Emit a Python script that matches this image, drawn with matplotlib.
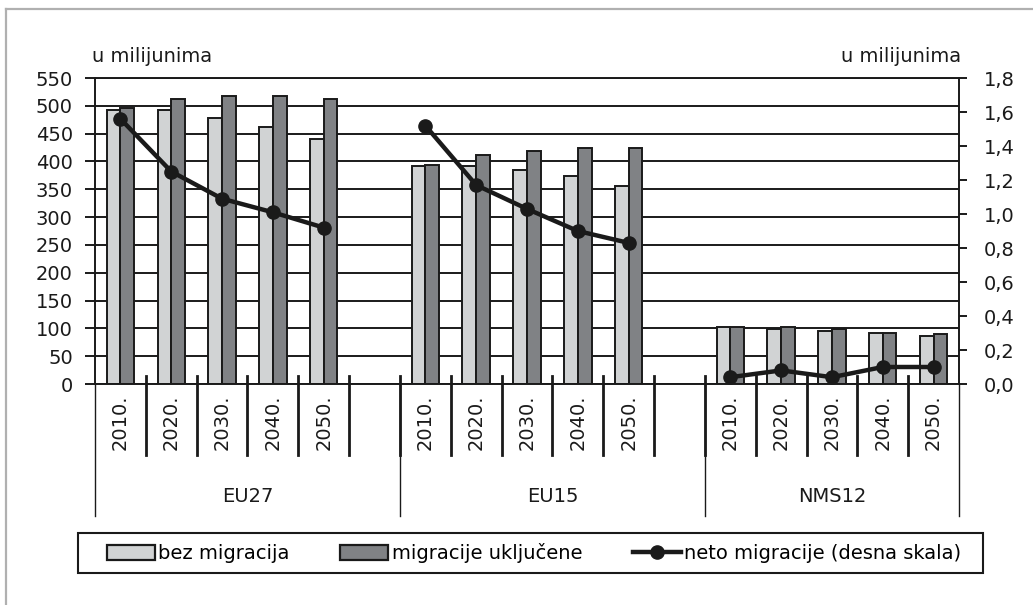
import matplotlib
matplotlib.use("Agg")
import matplotlib.pyplot as plt
from matplotlib.lines import Line2D
from matplotlib.patches import Patch, Rectangle
from matplotlib.ticker import FuncFormatter, MultipleLocator
import matplotlib.transforms as mtransforms
import numpy as np

# ---- data ----
groups = ["EU27", "EU15", "NMS12"]
years = ["2010.", "2020.", "2030.", "2040.", "2050."]
bez_migracija = [492, 492, 479, 462, 440,
                 392, 391, 385, 373, 356,
                 103, 98, 95, 92, 86]
migracije_ukljucene = [496, 512, 518, 518, 512,
                       394, 412, 418, 424, 424,
                       103, 103, 98, 92, 90]
neto_migracije = [1.56, 1.25, 1.09, 1.01, 0.92,
                  1.52, 1.17, 1.03, 0.90, 0.83,
                  0.04, 0.08, 0.04, 0.10, 0.10]
legend_labels = ["bez migracija", "migracije uključene", "neto migracije (desna skala)"]
unit_label = "u milijunima"

# ---- style ----
W, H = 1033, 605
FS = 14
LIGHT = "#d1d3d4"
DARK = "#808285"
plt.rcParams["font.family"] = ["DejaVu Sans"]

fig = plt.figure(figsize=(W / 100, H / 100), dpi=100)
ax = fig.add_axes([95 / W, 1 - 384 / H, (959 - 95) / W, (384 - 78) / H])

n_per = len(years)
step = n_per + 1
positions = np.array([g * step + i for g in range(len(groups)) for i in range(n_per)], dtype=float)
ncat = len(groups) * step - 1

bw = 0.27
ax.bar(positions - bw / 2, bez_migracija, width=bw, color=LIGHT, edgecolor="#1a1a1a",
       linewidth=1.4, zorder=2)
ax.bar(positions + bw / 2, migracije_ukljucene, width=bw, color=DARK, edgecolor="#1a1a1a",
       linewidth=1.4, zorder=2)

ax.set_xlim(-0.5, ncat - 0.5)
ax.set_ylim(0, 550)
ax.yaxis.set_major_locator(MultipleLocator(50))
ax.set_xticks([])
ax.grid(axis="y", color="#1a1a1a", linewidth=1.4)
ax.set_axisbelow(True)
ax.tick_params(axis="y", labelsize=FS, length=7, width=1.4, pad=9, colors="#1a1a1a")
for s in ["left", "bottom", "top"]:
    ax.spines[s].set_color("#1a1a1a")
    ax.spines[s].set_linewidth(1.4)
ax.spines["right"].set_visible(False)

ax2 = ax.twinx()
ax2.set_ylim(0, 1.8)
ax2.yaxis.set_major_locator(MultipleLocator(0.2))
ax2.yaxis.set_major_formatter(FuncFormatter(lambda v, p: f"{v:.1f}".replace(".", ",")))
ax2.tick_params(axis="y", labelsize=FS, length=6, width=1.4, pad=12, colors="#1a1a1a")
for s in ["left", "bottom", "top"]:
    ax2.spines[s].set_visible(False)
ax2.spines["right"].set_color("#1a1a1a")
ax2.spines["right"].set_linewidth(1.4)

# net migration line, broken between groups
for g in range(len(groups)):
    sl = slice(g * n_per, (g + 1) * n_per)
    ax2.plot(positions[sl], neto_migracije[sl], color="#1a1a1a", linewidth=3.2,
             marker="o", markersize=9.5, zorder=5)

# ---- category axis (years + groups) ----
bt = mtransforms.blended_transform_factory(ax.transData, fig.transFigure)
y_axis = 1 - 384 / H
for k in range(ncat - 1):
    xb = k + 0.5
    ax.add_line(Line2D([xb, xb], [1 - 376 / H, 1 - 455 / H], transform=bt,
                       color="#1a1a1a", linewidth=2.0, clip_on=False))
for xb in [-0.5] + [g * step - 0.5 for g in range(1, len(groups))] + [ncat - 0.5]:
    ax.add_line(Line2D([xb, xb], [y_axis, 1 - 516 / H], transform=bt,
                       color="#1a1a1a", linewidth=1.0, clip_on=False))
for p, g_i in zip(positions, range(len(positions))):
    ax.text(p, 1 - 394 / H, years[g_i % n_per], transform=bt, rotation=90,
            ha="center", va="top", fontsize=FS, color="#1a1a1a")
for g, name in enumerate(groups):
    start = g * step - 0.5
    end = min((g + 1) * step - 0.5, ncat - 0.5)
    ax.text((start + end) / 2, 1 - 497 / H, name, transform=bt, ha="center", va="center",
            fontsize=FS, color="#1a1a1a")

# unit labels
fig.text(92 / W, 1 - 57 / H, unit_label, ha="left", va="center", fontsize=FS, color="#1a1a1a")
fig.text(961 / W, 1 - 57 / H, unit_label, ha="right", va="center", fontsize=FS, color="#1a1a1a")

# ---- legend ----
fig.patches.append(Rectangle((78 / W, 1 - 573 / H), (983 - 78) / W, 40 / H,
                             transform=fig.transFigure, fill=False, edgecolor="#1a1a1a",
                             linewidth=1.5))
handles = [Patch(facecolor=LIGHT, edgecolor="#1a1a1a", linewidth=1.6),
           Patch(facecolor=DARK, edgecolor="#1a1a1a", linewidth=1.6),
           Line2D([0], [0], color="#1a1a1a", linewidth=3.2, marker="o", markersize=9.5)]
fig.legend(handles, legend_labels, loc="center left", bbox_to_anchor=(107 / W, 1 - 553 / H),
           ncol=3, frameon=False, fontsize=FS, borderpad=0, borderaxespad=0,
           handlelength=2.47, handleheight=0.85, handletextpad=0.17, columnspacing=2.6,
           numpoints=1)

# ---- outer gray frame ----
fig.add_artist(Line2D([6 / W, 6 / W], [0, 1 - 9 / H], transform=fig.transFigure,
                      color="#b0b0b0", linewidth=1.6))
fig.add_artist(Line2D([6 / W, 1], [1 - 9 / H, 1 - 9 / H], transform=fig.transFigure,
                      color="#b0b0b0", linewidth=1.6))

fig.savefig("out.png", dpi=100)
